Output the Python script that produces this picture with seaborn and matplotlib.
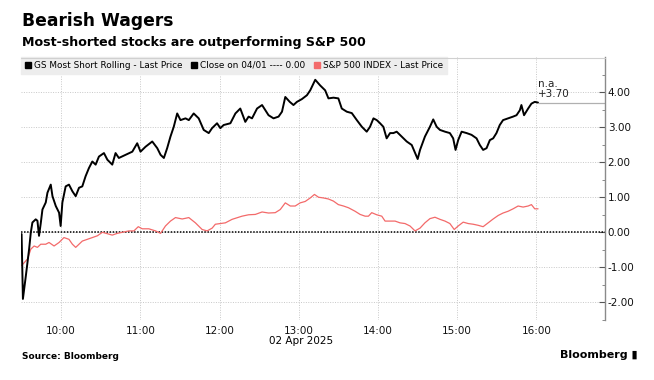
import pandas as pd
import seaborn as sns
import matplotlib.pyplot as plt
import matplotlib.dates as mdates
from matplotlib.patches import Patch

# minutes after 09:30 on 02 Apr 2025, % change vs close on 04/01
gs_minutes = [0, 1, 3.2, 5.7, 7, 8.2, 10.7, 12, 13.2, 14.5, 15.8, 18.3, 19.6, 22.1, 23.4,
              25.9, 28.4, 29.6, 30.9, 33.4, 35.9, 38.5, 41, 43.5, 46, 48.5, 51, 53.6, 56.1,
              58.6, 62.4, 65, 68.7, 71.2, 73.7, 78.8, 83.9, 87.6, 90.1, 93.9, 99, 102.8,
              105.3, 107.8, 110.3, 112.8, 115.3, 117.9, 120.4, 124.2, 126.7, 130.4, 134.2,
              138, 141.8, 144.3, 148.1, 150.6, 153.1, 158.2, 162, 165.7, 169.5, 172, 174.6,
              178.4, 182.2, 184.7, 187.1, 190.9, 194.7, 197.3, 199.8, 203.2, 206, 208.6,
              212.4, 216.2, 218.7, 222.5, 226.2, 230, 232.5, 236.3, 240, 242.6, 246.4,
              250.2, 254, 257.8, 261.5, 264, 266.6, 269.1, 271.6, 274.1, 276.6, 279.2,
              281.7, 284.2, 288, 291.8, 295.6, 300.1, 301.9, 305.6, 309.4, 311.9, 314.5,
              317, 320.8, 324.5, 327, 328.8, 330.8, 333.4, 337.2, 340.9, 344.7, 347.2,
              349.7, 352.3, 354.8, 357.3, 359.8, 362.3, 364.8, 368.6, 372.4, 375, 377.5,
              378.7, 380.7, 383.8, 386.3, 388.8, 391.3]
gs_values = [-0.05, -1.9, -1.25, -0.48, 0.0, 0.28, 0.37, 0.33, -0.1, 0.25, 0.65, 0.85, 1.13,
             1.36, 1.03, 0.75, 0.56, 0.18, 0.85, 1.31, 1.36, 1.17, 1.03, 1.27, 1.31, 1.6,
             1.83, 2.02, 1.93, 2.16, 2.26, 2.07, 1.93, 2.26, 2.12, 2.21, 2.3, 2.54, 2.3,
             2.44, 2.59, 2.4, 2.21, 2.12, 2.4, 2.73, 3.01, 3.39, 3.2, 3.25, 3.2, 3.39, 3.25,
             2.92, 2.83, 2.97, 3.11, 2.97, 3.06, 3.11, 3.39, 3.53, 3.15, 3.3, 3.25, 3.53,
             3.63, 3.48, 3.34, 3.25, 3.3, 3.44, 3.86, 3.72, 3.63, 3.72, 3.8, 3.91, 4.05,
             4.35, 4.19, 4.05, 3.82, 3.84, 3.82, 3.53, 3.44, 3.4, 3.2, 3.01, 2.87, 3.01,
             3.25, 3.2, 3.11, 3.01, 2.68, 2.83, 2.83, 2.87, 2.73, 2.59, 2.49, 2.09, 2.35,
             2.73, 3.01, 3.22, 3.01, 2.92, 2.87, 2.83, 2.68, 2.35, 2.63, 2.87, 2.83, 2.78,
             2.68, 2.49, 2.35, 2.4, 2.63, 2.68, 2.83, 3.06, 3.2, 3.25, 3.3, 3.34, 3.48,
             3.63, 3.34, 3.53, 3.67, 3.72, 3.70]

spx_minutes = [0, 4.5, 7, 9.5, 12, 14.5, 18.3, 20.8, 24.6, 28.4, 32.1, 35.9, 38.5, 41, 43.5,
               46, 49.8, 53.6, 57.4, 61.2, 65, 68.7, 72.5, 76.3, 81.3, 85.1, 88.4, 91.4,
               96.4, 101.5, 105.3, 109, 112.8, 116.6, 121.7, 126.7, 131.7, 136.8, 140.6,
               144.4, 146.8, 154.4, 159.5, 167, 172, 177.1, 182.2, 187.1, 192.2, 196,
               199.8, 203.6, 207.3, 211.1, 214.9, 218.7, 221.9, 225, 228.7, 232.5, 236.3,
               240, 243.9, 247.7, 252.7, 256.5, 260.3, 262.8, 265.3, 269.1, 272.9, 275.4,
               279.2, 283, 286.7, 290.5, 294.3, 298.1, 301.9, 305.6, 309.4, 313.2, 317,
               320.8, 324.5, 327.8, 330.8, 334.6, 338.4, 342.2, 345.9, 349.7, 353.5,
               357.3, 361.1, 364.8, 368.6, 372.4, 376.2, 380, 383.8, 386.3, 388.8, 391.3]
spx_values = [-0.95, -0.76, -0.48, -0.39, -0.43, -0.34, -0.34, -0.29, -0.39, -0.29, -0.15,
              -0.2, -0.34, -0.43, -0.34, -0.25, -0.2, -0.15, -0.1, 0.0, -0.04, -0.08, -0.03,
              0.0, 0.04, 0.04, 0.16, 0.1, 0.1, 0.04, -0.03, 0.18, 0.32, 0.42, 0.38, 0.42,
              0.27, 0.08, 0.04, 0.12, 0.23, 0.27, 0.37, 0.46, 0.5, 0.51, 0.58, 0.55, 0.56,
              0.65, 0.84, 0.75, 0.75, 0.84, 0.88, 0.98, 1.08, 1.0, 0.98, 0.95, 0.89, 0.79,
              0.75, 0.7, 0.6, 0.51, 0.46, 0.46, 0.56, 0.5, 0.46, 0.32, 0.32, 0.32, 0.27,
              0.25, 0.18, 0.04, 0.12, 0.27, 0.39, 0.43, 0.37, 0.32, 0.25, 0.08, 0.18, 0.29,
              0.25, 0.23, 0.2, 0.16, 0.27, 0.38, 0.48, 0.55, 0.6, 0.67, 0.75, 0.72, 0.75,
              0.79, 0.67, 0.67]

open_time = pd.Timestamp('2025-04-02 09:30')
gs = pd.DataFrame({'time': open_time + pd.to_timedelta(gs_minutes, unit='m'), 'value': gs_values})
spx = pd.DataFrame({'time': open_time + pd.to_timedelta(spx_minutes, unit='m'), 'value': spx_values})
last_value = gs_values[-1]

sns.set_style('white')
plt.rcParams['font.family'] = ['DejaVu Sans']
plt.rcParams['text.color'] = 'black'
plt.rcParams['xtick.color'] = '#111111'
plt.rcParams['ytick.color'] = '#111111'

fig = plt.figure(figsize=(6.54, 3.8), dpi=100)
ax = fig.add_axes([0.032, 0.158, 0.893, 0.692])

grid_color = '#c8c8c8'
sns.lineplot(data=spx, x='time', y='value', ax=ax, color='#f36a6a', lw=0.9)
sns.lineplot(data=gs, x='time', y='value', ax=ax, color='black', lw=1.4)
ax.axhline(0, color='black', lw=1.1, ls=(0, (1, 1)), zorder=1)

x_start = open_time - pd.Timedelta(minutes=0.5)
x_end = open_time + pd.Timedelta(minutes=442)
ax.set_xlim(x_start, x_end)
ax.set_ylim(-2.5, 5.0)
ax.xaxis.set_major_locator(mdates.HourLocator())
ax.xaxis.set_major_formatter(mdates.DateFormatter('%H:%M'))
ax.set_yticks([-2, -1, 0, 1, 2, 3, 4])
ax.set_yticks([-2.5, -1.5, -0.5, 0.5, 1.5, 2.5, 3.5, 4.5], minor=True)
ax.yaxis.set_major_formatter(plt.FuncFormatter(lambda v, p: f'{v:.2f}'))
ax.yaxis.tick_right()
ax.grid(True, which='major', color=grid_color, ls=(0, (1, 1.5)), lw=0.7)
for s in ['left', 'top', 'bottom']:
    ax.spines[s].set_visible(False)
ax.spines['right'].set_color('#8a8a8a')
ax.spines['right'].set_linewidth(1.0)
ax.tick_params(axis='y', which='major', direction='in', length=4, color='#555555',
               labelsize=7.5, pad=2, right=True)
ax.tick_params(axis='y', which='minor', direction='in', length=2, color='#777777', right=True)
ax.tick_params(axis='x', length=0, labelsize=7.5, pad=4)
ax.set_xlabel('')
ax.set_ylabel('')

# last value marker
last_time = gs['time'].iloc[-1]
ax.plot([last_time, x_end], [last_value, last_value], color='#b0b0b0', lw=0.9)
ax.text(last_time, last_value + 0.1, f'n.a.\n+{last_value:.2f}', fontsize=7.5,
        va='bottom', ha='left', linespacing=1.0, color='#222222')

handles = [Patch(color='black'), Patch(color='black'), Patch(color='#f36a6a')]
labels = ['GS Most Short Rolling - Last Price', 'Close on 04/01 ---- 0.00', 'S&P 500 INDEX - Last Price']
leg = ax.legend(handles, labels, ncol=3, loc='upper left', bbox_to_anchor=(0, 1.0), fontsize=6.4,
                frameon=True, fancybox=False, handlelength=0.7, handleheight=0.7, handletextpad=0.3,
                columnspacing=1.0, borderpad=0.45, borderaxespad=0)
leg.get_frame().set_facecolor('#ededed')
leg.get_frame().set_edgecolor('#ededed')
leg.get_frame().set_alpha(1)

fig.text(0.034, 0.945, 'Bearish Wagers', fontsize=12.3, fontweight='bold', va='center')
fig.text(0.034, 0.887, 'Most-shorted stocks are outperforming S&P 500', fontsize=9.1,
         fontweight='bold', va='center')
fig.add_artist(plt.Line2D([0.032, 0.925], [0.848, 0.848], color='#d0d0d0', lw=0.8))
fig.text(0.46, 0.102, '02 Apr 2025', fontsize=7.5, ha='center', va='center')
fig.text(0.034, 0.063, 'Source: Bloomberg', fontsize=6.5, fontweight='bold', va='center')
fig.text(0.975, 0.065, 'Bloomberg \u25AE', fontsize=8, fontweight='bold', ha='right', va='center')

fig.savefig('out.png', dpi=100)
